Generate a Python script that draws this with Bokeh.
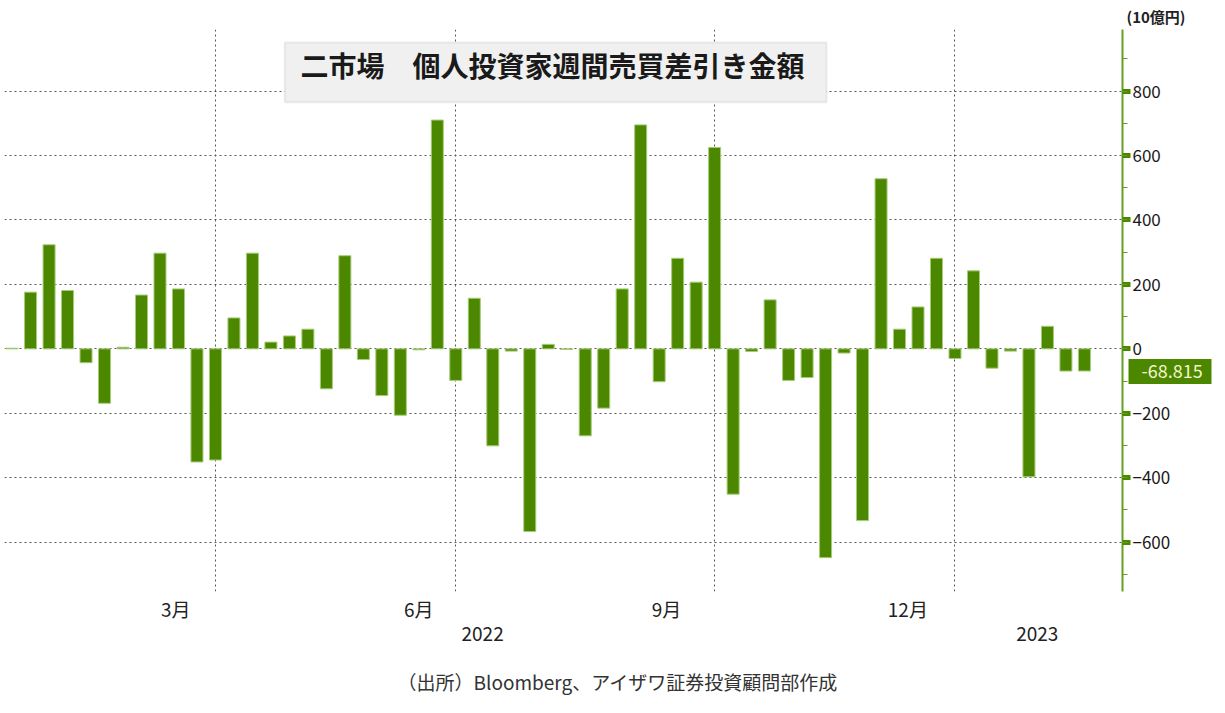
from bokeh.plotting import figure
from bokeh.models import (LinearAxis, FixedTicker, SingleIntervalTicker, Range1d,
                          Label, BoxAnnotation, Title)
from bokeh.embed import file_html
from bokeh.resources import INLINE

# ---- data (weekly net buying by individual investors, 10億円) ----
net_flows = [2, 176, 323, 181, -43, -169, 5, 167, 297, 186, -351, -345, 96, 297,
             21, 40, 61, -124, 289, -33, -145, -206, -3, 710, -98, 157, -301, -7,
             -567, 14, -2, -270, -184, 186, 695, -102, 281, 207, 625, -451, -8,
             152, -98, -89, -648, -13, -533, 528, 61, 130, 281, -30, 242, -60, -7,
             -397, 70, -69, -68.815]
week_index = list(range(len(net_flows)))

month_labels = ["3月", "6月", "9月", "12月"]
month_label_pos = [8.85, 22.0, 35.4, 48.45]
year_labels = ["2022", "2023"]
year_label_pos = [25.45, 55.45]
quarter_start_pos = [11, 24, 38, 51]

title_text = "二市場　個人投資家週間売買差引き金額"
unit_text = "(10億円)"
source_text = "（出所）Bloomberg、アイザワ証券投資顧問部作成"

GREEN = "#4c8700"
JP = "Noto Sans CJK JP"
X_END = 60.06

p = figure(frame_width=1118, frame_height=562, output_backend="svg",
           toolbar_location=None, y_axis_location="right",
           x_range=Range1d(-0.41, X_END), y_range=Range1d(-753, 991),
           min_border_left=4, min_border_right=95, min_border_top=28,
           min_border_bottom=120, background_fill_color="white",
           border_fill_color="white", outline_line_color=None)

p.vbar(x=week_index, top=net_flows, bottom=0, width=0.65,
       fill_color=GREEN, line_color="#a6cc78", line_width=1)

# grids
p.ygrid.grid_line_color = "#555555"
p.ygrid.grid_line_dash = "2 3"
p.xgrid.ticker = FixedTicker(ticks=quarter_start_pos)
p.xgrid.grid_line_color = "#555555"
p.xgrid.grid_line_dash = "2 3"

# right value axis
ya = p.yaxis[0]
ya.ticker = SingleIntervalTicker(interval=200, num_minor_ticks=2)
ya.axis_line_color = "#62a022"
ya.axis_line_width = 2
ya.major_tick_in = 0
ya.major_tick_out = 8
ya.major_tick_line_color = GREEN
ya.major_tick_line_width = 5
ya.minor_tick_in = 0
ya.minor_tick_out = 5
ya.minor_tick_line_color = "#62a022"
ya.minor_tick_line_width = 1
ya.major_label_standoff = 2
ya.major_label_text_font = JP
ya.major_label_text_font_size = "17px"
ya.major_label_text_color = "#1a1a1a"

# last-value marker: a one-tick axis whose tick reaches back to the value axis line
last_axis = LinearAxis(ticker=FixedTicker(ticks=[net_flows[-1]]),
                       major_label_overrides={net_flows[-1]: f"{net_flows[-1]:.3f}"})
last_axis.axis_line_color = None
last_axis.minor_tick_line_color = None
last_axis.major_tick_in = 45
last_axis.major_tick_out = 38
last_axis.major_tick_line_width = 25
last_axis.major_tick_line_color = GREEN
last_axis.major_tick_line_cap = "butt"
last_axis.major_label_standoff = -70
last_axis.major_label_text_font = JP
last_axis.major_label_text_font_size = "18px"
last_axis.major_label_text_color = "#f4f4cc"
p.add_layout(last_axis, "right")

# month axis
xa = p.xaxis[0]
xa.ticker = FixedTicker(ticks=month_label_pos)
xa.major_label_overrides = {pos: lab for pos, lab in zip(month_label_pos, month_labels)}
xa.axis_line_color = None
xa.major_tick_line_color = None
xa.minor_tick_line_color = None
xa.major_tick_out = 0
xa.major_label_standoff = 3
xa.major_label_text_font = JP
xa.major_label_text_font_size = "19px"
xa.major_label_text_color = "#222222"

# year axis
ya2 = LinearAxis(ticker=FixedTicker(ticks=year_label_pos),
                 major_label_overrides={pos: lab for pos, lab in zip(year_label_pos, year_labels)})
ya2.axis_line_color = None
ya2.major_tick_line_color = None
ya2.minor_tick_line_color = None
ya2.major_tick_out = 0
ya2.major_label_standoff = 2
ya2.major_label_text_font = JP
ya2.major_label_text_font_size = "19px"
ya2.major_label_text_color = "#222222"
p.add_layout(ya2, "below")

# title box
p.add_layout(BoxAnnotation(left=14.75, right=44.05, top=951, bottom=765,
                           fill_color="#f0f0f0", fill_alpha=1.0,
                           line_color="#c4c4c4", line_width=2))
p.add_layout(Label(x=15.6, y=880, text=title_text, text_font=JP,
                   text_font_size="28px", text_font_style="bold",
                   text_color="#1a1a1a", text_baseline="middle", text_align="left"))

# unit label above the value axis
p.add_layout(Title(text=unit_text, align="right", offset=-63, text_font=JP,
                   text_font_size="15px", text_font_style="bold",
                   text_color="#222222", standoff=6), "above")

# source caption
p.add_layout(Title(text=source_text, align="left", offset=393, text_font=JP,
                   text_font_size="19px", text_font_style="normal",
                   text_color="#333333", standoff=44), "below")

open("out.html", "w").write(file_html(p, INLINE))
